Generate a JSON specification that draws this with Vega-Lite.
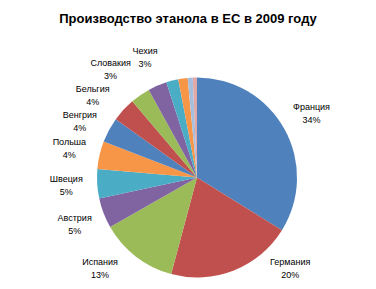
{
  "$schema": "https://vega.github.io/schema/vega-lite/v6.json",
  "autosize": "none",
  "padding": {"left": 18, "top": 66, "right": 0, "bottom": 0},
  "width": 358,
  "height": 223,
  "background": "white",
  "title": {
    "text": "Производство этанола в ЕС в 2009 году",
    "font": "Liberation Sans",
    "fontSize": 13,
    "fontWeight": "bold",
    "color": "#000000",
    "anchor": "middle",
    "frame": "group",
    "baseline": "alphabetic",
    "offset": -31,
    "dx": -9
  },
  "config": {"view": {"stroke": null}},
  "data": {
    "values": [
      {"name": "Франция", "value": 1250, "pct": "34%"},
      {"name": "Германия", "value": 750, "pct": "20%"},
      {"name": "Испания", "value": 465, "pct": "13%"},
      {"name": "Австрия", "value": 180, "pct": "5%"},
      {"name": "Швеция", "value": 175, "pct": "5%"},
      {"name": "Польша", "value": 166, "pct": "4%"},
      {"name": "Венгрия", "value": 150, "pct": "4%"},
      {"name": "Бельгия", "value": 143, "pct": "4%"},
      {"name": "Словакия", "value": 118, "pct": "3%"},
      {"name": "Чехия", "value": 113, "pct": "3%"},
      {"name": "Италия", "value": 72, "pct": "2%"},
      {"name": "Великобритания", "value": 56, "pct": "2%"},
      {"name": "Литва", "value": 30, "pct": "1%"},
      {"name": "Латвия", "value": 25, "pct": "1%"}
    ]
  },
  "encoding": {
    "theta": {"field": "value", "type": "quantitative", "stack": true},
    "order": {"field": "value", "type": "quantitative", "sort": "descending"}
  },
  "layer": [
    {
      "mark": {"type": "arc", "outerRadius": 100},
      "encoding": {
        "color": {
          "field": "name",
          "type": "nominal",
          "legend": null,
          "scale": {
            "domain": ["Франция", "Германия", "Испания", "Австрия", "Швеция", "Польша", "Венгрия", "Бельгия", "Словакия", "Чехия", "Италия", "Великобритания", "Литва", "Латвия"],
            "range": ["#4F81BD", "#C0504D", "#9BBB59", "#8064A2", "#4BACC6", "#F79646", "#4F81BD", "#C0504D", "#9BBB59", "#8064A2", "#4BACC6", "#F79646", "#A7BFDE", "#E0A9A8"]
          }
        }
      }
    },
    {
      "mark": {"type": "text", "radius": 131, "font": "Liberation Sans", "fontSize": 9, "color": "#000000", "dy": -6.5, "baseline": "middle", "align": "center"},
      "encoding": {"text": {"condition": {"test": "indexof(['Франция','Чехия','Польша','Швеция','Австрия'], datum.name) >= 0", "field": "name"}, "value": ""}}
    },
    {
      "mark": {"type": "text", "radius": 131, "font": "Liberation Sans", "fontSize": 9, "color": "#000000", "dy": 6.5, "baseline": "middle", "align": "center"},
      "encoding": {"text": {"condition": {"test": "indexof(['Франция','Чехия','Польша','Швеция','Австрия'], datum.name) >= 0", "field": "pct"}, "value": ""}}
    },
    {
      "mark": {"type": "text", "radius": 131, "font": "Liberation Sans", "fontSize": 9, "color": "#000000", "dx": -12, "dy": -6.5, "baseline": "middle", "align": "center"},
      "encoding": {"text": {"condition": {"test": "datum.name === 'Словакия'", "field": "name"}, "value": ""}}
    },
    {
      "mark": {"type": "text", "radius": 131, "font": "Liberation Sans", "fontSize": 9, "color": "#000000", "dx": -12, "dy": 6.5, "baseline": "middle", "align": "center"},
      "encoding": {"text": {"condition": {"test": "datum.name === 'Словакия'", "field": "pct"}, "value": ""}}
    },
    {
      "mark": {"type": "text", "radius": 131, "font": "Liberation Sans", "fontSize": 9, "color": "#000000", "dx": -8, "dy": 0, "baseline": "middle", "align": "center"},
      "encoding": {"text": {"condition": {"test": "datum.name === 'Бельгия'", "field": "name"}, "value": ""}}
    },
    {
      "mark": {"type": "text", "radius": 131, "font": "Liberation Sans", "fontSize": 9, "color": "#000000", "dx": -8, "dy": 13, "baseline": "middle", "align": "center"},
      "encoding": {"text": {"condition": {"test": "datum.name === 'Бельгия'", "field": "pct"}, "value": ""}}
    },
    {
      "mark": {"type": "text", "radius": 131, "font": "Liberation Sans", "fontSize": 9, "color": "#000000", "dx": -2, "dy": -0.5, "baseline": "middle", "align": "center"},
      "encoding": {"text": {"condition": {"test": "datum.name === 'Венгрия'", "field": "name"}, "value": ""}}
    },
    {
      "mark": {"type": "text", "radius": 131, "font": "Liberation Sans", "fontSize": 9, "color": "#000000", "dx": -2, "dy": 12.5, "baseline": "middle", "align": "center"},
      "encoding": {"text": {"condition": {"test": "datum.name === 'Венгрия'", "field": "pct"}, "value": ""}}
    },
    {
      "mark": {"type": "text", "radius": 131, "font": "Liberation Sans", "fontSize": 9, "color": "#000000", "dx": 45, "dy": -37.5, "baseline": "middle", "align": "center"},
      "encoding": {"text": {"condition": {"test": "datum.name === 'Германия'", "field": "name"}, "value": ""}}
    },
    {
      "mark": {"type": "text", "radius": 131, "font": "Liberation Sans", "fontSize": 9, "color": "#000000", "dx": 45, "dy": -24.5, "baseline": "middle", "align": "center"},
      "encoding": {"text": {"condition": {"test": "datum.name === 'Германия'", "field": "pct"}, "value": ""}}
    },
    {
      "mark": {"type": "text", "radius": 131, "font": "Liberation Sans", "fontSize": 9, "color": "#000000", "dx": -17, "dy": -19.5, "baseline": "middle", "align": "center"},
      "encoding": {"text": {"condition": {"test": "datum.name === 'Испания'", "field": "name"}, "value": ""}}
    },
    {
      "mark": {"type": "text", "radius": 131, "font": "Liberation Sans", "fontSize": 9, "color": "#000000", "dx": -17, "dy": -6.5, "baseline": "middle", "align": "center"},
      "encoding": {"text": {"condition": {"test": "datum.name === 'Испания'", "field": "pct"}, "value": ""}}
    }
  ]
}
